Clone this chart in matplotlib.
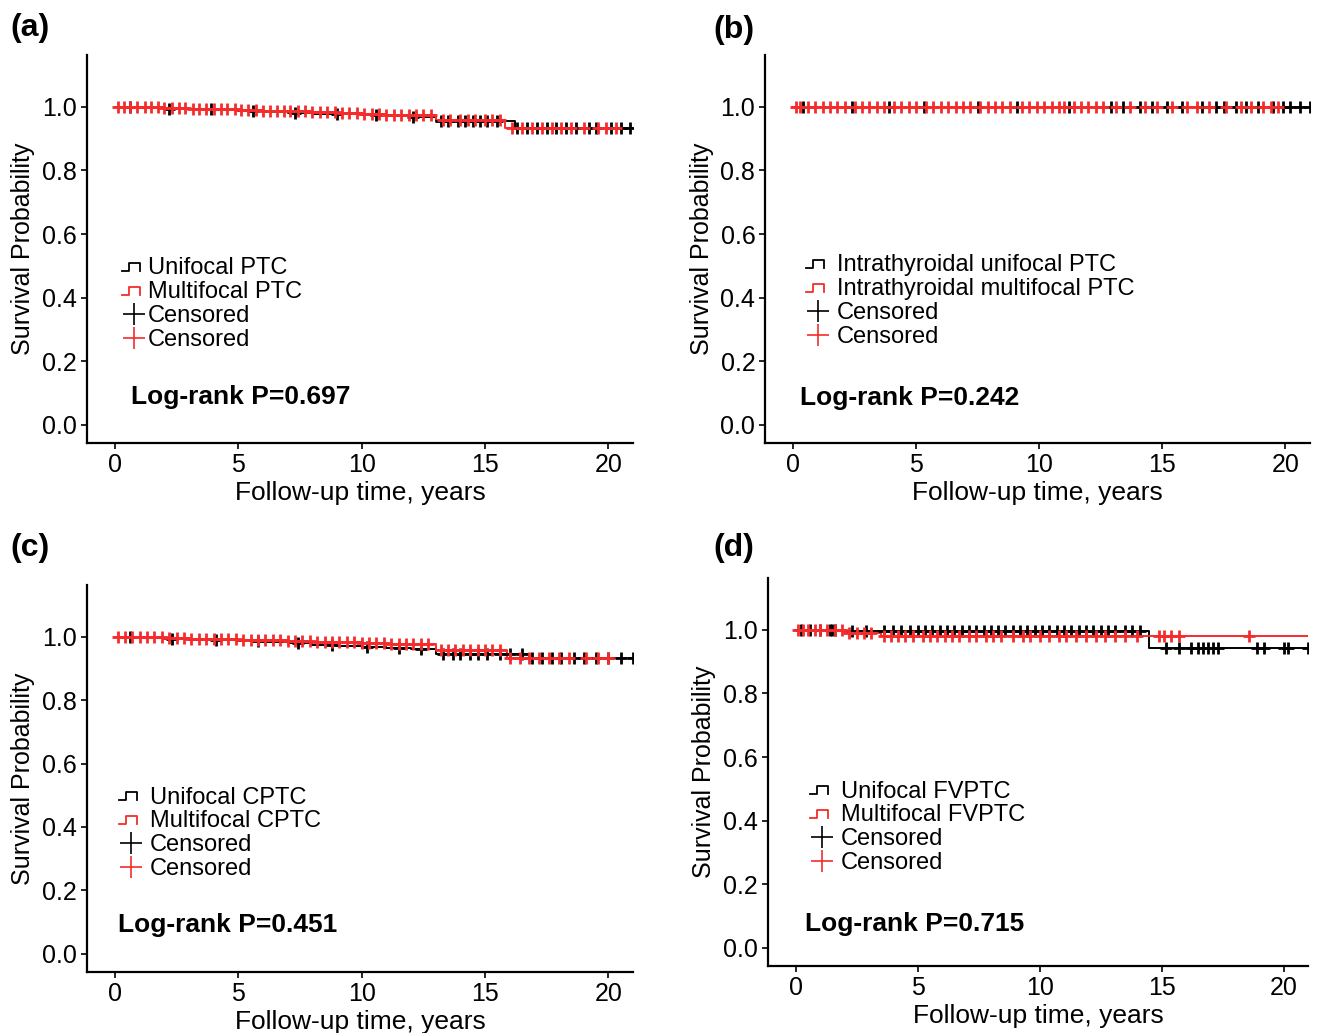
import numpy as np
import matplotlib
matplotlib.use('Agg')
import matplotlib.pyplot as plt
from matplotlib.lines import Line2D
from matplotlib.legend_handler import HandlerBase

plt.rcParams['font.family'] = ['Liberation Sans', 'DejaVu Sans']

# ------------------- data -------------------------------------------
# (a) PTC
a_uni_t = [0, 1, 2, 3, 4, 5, 6, 7, 8, 9, 10, 11, 12, 13.0, 16.2]
a_uni_s = [1.0, 0.997, 0.994, 0.992, 0.99, 0.987, 0.984, 0.981, 0.978, 0.976, 0.973, 0.971, 0.969, 0.954, 0.933]
a_uni_end = 21.0
a_uni_cens = [0.6, 2.2, 3.9, 5.6, 7.3, 9.0, 10.6, 12.1, 13.2, 13.5, 13.9, 14.2, 14.5, 14.8, 15.1,
              15.5, 16.3, 16.7, 17.1, 17.5, 17.9, 18.3, 18.7, 19.2, 19.5, 20.1, 20.5, 20.9]
a_mul_t = [0, 1, 2, 3, 4, 5, 6, 7, 8, 9, 10, 11, 13.0, 15.8]
a_mul_s = [1.0, 0.998, 0.996, 0.994, 0.992, 0.99, 0.988, 0.986, 0.984, 0.982, 0.978, 0.974, 0.959, 0.933]
a_mul_end = 20.8
a_mul_cens = [0.1, 0.35, 0.6, 0.9, 1.2, 1.45, 1.75, 2.0, 2.3, 2.6, 2.85, 3.15, 3.4, 3.7, 4.0, 4.3,
              4.55, 4.85, 5.1, 5.4, 5.7, 6.0, 6.3, 6.55, 6.85, 7.1, 7.4, 7.7, 8.0, 8.3, 8.6, 8.9,
              9.2, 9.5, 9.8, 10.1, 10.4, 10.7, 11.0, 11.3, 11.6, 11.9, 12.2, 12.5, 12.8, 13.3,
              13.6, 14.0, 14.3, 14.6, 15.0, 15.3, 15.6, 16.1, 16.5, 16.9, 17.3, 17.7, 18.1, 18.5,
              19.0, 19.6, 19.9, 20.3]

# (b) intrathyroidal PTC
b_uni_t = [0]
b_uni_s = [1.0]
b_uni_end = 21.0
b_uni_cens = [0.4, 2.4, 3.9, 5.3, 7.5, 9.1, 11.2, 12.9, 13.4, 14.1, 14.6, 15.2, 15.8, 16.6, 17.2,
              17.5, 18.0, 18.4, 18.9, 19.5, 19.9, 20.2, 20.6, 21.0]
b_mul_t = [0]
b_mul_s = [1.0]
b_mul_end = 20.9
b_mul_cens = [0.1, 0.3, 0.6, 0.9, 1.2, 1.5, 1.8, 2.1, 2.5, 2.8, 3.1, 3.4, 3.7, 4.1, 4.4, 4.7,
              5.0, 5.4, 5.7, 6.0, 6.3, 6.6, 6.9, 7.2, 7.6, 7.9, 8.2, 8.5, 8.8, 9.3, 9.6, 9.9,
              10.2, 10.5, 10.8, 11.0, 11.4, 11.7, 12.0, 12.3, 12.6, 13.1, 13.7, 14.3, 14.8,
              15.4, 16.0, 16.4, 16.9, 17.6, 18.2, 18.6, 19.1, 19.4, 19.7]

# (c) CPTC
c_uni_t = [0, 1, 2, 3, 4, 5, 6, 7, 8, 9, 10, 11, 12, 13.0, 16.8]
c_uni_s = [1.0, 0.997, 0.994, 0.991, 0.989, 0.986, 0.983, 0.979, 0.975, 0.971, 0.968, 0.965, 0.962, 0.946, 0.932]
c_uni_end = 21.0
c_uni_cens = [0.6, 2.3, 4.1, 5.8, 7.4, 8.8, 10.2, 11.5, 12.4, 13.3, 13.7, 14.0, 14.4, 14.7, 15.1,
              15.6, 16.0, 16.5, 16.9, 17.3, 17.7, 18.1, 18.6, 19.0, 19.5, 20.0, 20.5, 21.0]
c_mul_t = [0, 1, 2, 3, 4, 5, 6, 7, 8, 9, 10, 11, 12, 13.0, 15.9]
c_mul_s = [1.0, 0.998, 0.996, 0.994, 0.992, 0.99, 0.988, 0.986, 0.984, 0.982, 0.98, 0.978, 0.976, 0.958, 0.932]
c_mul_end = 20.8
c_mul_cens = [0.1, 0.4, 0.7, 1.0, 1.3, 1.6, 1.9, 2.2, 2.5, 2.8, 3.1, 3.4, 3.7, 4.0, 4.3, 4.6,
              4.9, 5.2, 5.5, 5.8, 6.1, 6.4, 6.7, 7.0, 7.3, 7.6, 7.9, 8.2, 8.5, 8.8, 9.1, 9.4,
              9.7, 10.0, 10.3, 10.6, 10.9, 11.2, 11.5, 11.8, 12.1, 12.4, 12.7, 13.2, 13.5,
              13.8, 14.1, 14.4, 14.7, 15.0, 15.3, 15.6, 16.0, 16.4, 16.8, 17.2, 17.6, 18.0,
              18.4, 19.1, 19.6, 20.0]

# (d) FVPTC
d_uni_t = [0, 2.0, 14.5]
d_uni_s = [1.0, 0.995, 0.943]
d_uni_end = 21.0
d_uni_cens = [0.2, 0.6, 1.0, 1.4, 1.5, 1.6, 2.3, 2.9, 3.6, 4.0, 4.3, 4.7, 5.0, 5.3, 5.6, 5.9,
              6.2, 6.5, 6.8, 7.1, 7.4, 7.7, 8.0, 8.3, 8.6, 8.9, 9.2, 9.5, 9.8, 10.1, 10.4, 10.7,
              11.0, 11.3, 11.6, 11.9, 12.2, 12.5, 12.8, 13.1, 13.5, 13.8, 14.1, 15.2, 15.7,
              16.2, 16.5, 16.7, 16.9, 17.1, 17.3, 18.9, 19.2, 20.0, 20.2, 21.0]
d_mul_t = [0, 2.0, 3.5]
d_mul_s = [1.0, 0.99, 0.982]
d_mul_end = 21.0
d_mul_cens = [0.1, 0.3, 0.5, 0.8, 1.0, 1.3, 1.6, 1.9, 2.2, 2.5, 2.8, 3.1, 3.6, 3.9, 4.2, 4.5,
              4.8, 5.2, 5.5, 5.8, 6.1, 6.4, 6.7, 7.1, 7.4, 7.8, 8.1, 8.4, 8.9, 9.3, 9.6, 10.0,
              10.4, 10.8, 11.1, 11.5, 11.9, 12.3, 12.7, 13.1, 13.5, 14.0, 14.9, 15.1, 15.4,
              15.7, 18.6]

panels = [
    ('(a)', ['Unifocal PTC', 'Multifocal PTC'], 'Log-rank P=0.697',
     (a_uni_t, a_uni_s, a_uni_end, a_uni_cens), (a_mul_t, a_mul_s, a_mul_end, a_mul_cens)),
    ('(b)', ['Intrathyroidal unifocal PTC', 'Intrathyroidal multifocal PTC'], 'Log-rank P=0.242',
     (b_uni_t, b_uni_s, b_uni_end, b_uni_cens), (b_mul_t, b_mul_s, b_mul_end, b_mul_cens)),
    ('(c)', ['Unifocal CPTC', 'Multifocal CPTC'], 'Log-rank P=0.451',
     (c_uni_t, c_uni_s, c_uni_end, c_uni_cens), (c_mul_t, c_mul_s, c_mul_end, c_mul_cens)),
    ('(d)', ['Unifocal FVPTC', 'Multifocal FVPTC'], 'Log-rank P=0.715',
     (d_uni_t, d_uni_s, d_uni_end, d_uni_cens), (d_mul_t, d_mul_s, d_mul_end, d_mul_cens)),
]

BLACK = '#000000'
RED = '#F52C2C'

# layout (figure fractions) per panel
ax_rects = [
    [0.066, 0.5712, 0.4146, 0.3756],
    [0.5809, 0.5712, 0.4138, 0.3756],
    [0.066, 0.0591, 0.4146, 0.3746],
    [0.5831, 0.0649, 0.4100, 0.3756],
]
letter_pos = [(10, 28), (713, 30), (10, 548), (713, 548)]
legend_pos = [(0.064, 0.358, 0.1), (0.075, 0.365, 0.3), (0.059, 0.358, 0.3), (0.078, 0.357, 0.3)]
logrank_pos = [(0.081, 0.119), (0.064, 0.116), (0.057, 0.121), (0.0685, 0.108)]


class StepHandler(HandlerBase):
    def create_artists(self, legend, orig_handle, xdescent, ydescent, width, height, fontsize, trans):
        x0 = -xdescent
        y0 = -ydescent
        xs = [x0, x0 + 0.3 * width, x0 + 0.3 * width, x0 + 0.75 * width, x0 + 0.75 * width]
        ys = [y0 + 0.2 * height, y0 + 0.2 * height, y0 + 0.7 * height, y0 + 0.7 * height, y0 + 0.2 * height]
        ln = Line2D(xs, ys, color=orig_handle.get_color(), lw=1.3, transform=trans)
        return [ln]


def draw_km(ax, series, color):
    t, s, end, cens = series
    tt = np.array(list(t) + [end])
    ss = np.array(list(s) + [s[-1]])
    ax.step(tt, ss, where='post', color=color, lw=1.4, zorder=3)
    idx = np.searchsorted(np.array(t), np.array(cens), side='right') - 1
    ax.plot(cens, np.array(s)[idx], ls='none', marker='+', ms=8, mew=2.0, color=color, zorder=4)


fig = plt.figure(figsize=(13.17, 10.33), dpi=100)

for i, (letter, labels, ptext, uni, mul) in enumerate(panels):
    ax = fig.add_axes(ax_rects[i])
    draw_km(ax, uni, BLACK)
    draw_km(ax, mul, RED)

    ax.set_xlim(-1.14, 21.0)
    ax.set_ylim(-0.057, 1.163)
    ax.set_xticks([0, 5, 10, 15, 20])
    ax.set_yticks([0.0, 0.2, 0.4, 0.6, 0.8, 1.0])
    ax.set_yticklabels(['0.0', '0.2', '0.4', '0.6', '0.8', '1.0'])
    for sp in ['top', 'right']:
        ax.spines[sp].set_visible(False)
    for sp in ['left', 'bottom']:
        ax.spines[sp].set_linewidth(1.6)
    ax.tick_params(axis='both', labelsize=18, length=4, width=1.2, pad=3)
    ax.set_xlabel('Follow-up time, years', fontsize=19, labelpad=3)
    ax.set_ylabel('Survival Probability', fontsize=18, labelpad=5)

    handles = [Line2D([], [], color=BLACK), Line2D([], [], color=RED),
               Line2D([], [], color=BLACK, ls='none', marker='+', ms=16, mew=1.2),
               Line2D([], [], color=RED, ls='none', marker='+', ms=16, mew=1.2)]
    lx, ly, pad = legend_pos[i]
    ax.legend(handles, labels + ['Censored', 'Censored'], loc='center left',
              bbox_to_anchor=(lx, ly), frameon=False, fontsize=17, borderpad=0,
              borderaxespad=0, labelspacing=0.08, handlelength=1.0, handletextpad=pad,
              handler_map={handles[0]: StepHandler(), handles[1]: StepHandler()})

    px, py = logrank_pos[i]
    ax.text(px, py, ptext, transform=ax.transAxes, fontsize=19, fontweight='bold',
            ha='left', va='center')

    fx, fy = letter_pos[i]
    fig.text(fx / 1317, 1 - fy / 1033, letter, fontsize=23, fontweight='bold',
             ha='left', va='center')

fig.savefig('out.png', dpi=100)
